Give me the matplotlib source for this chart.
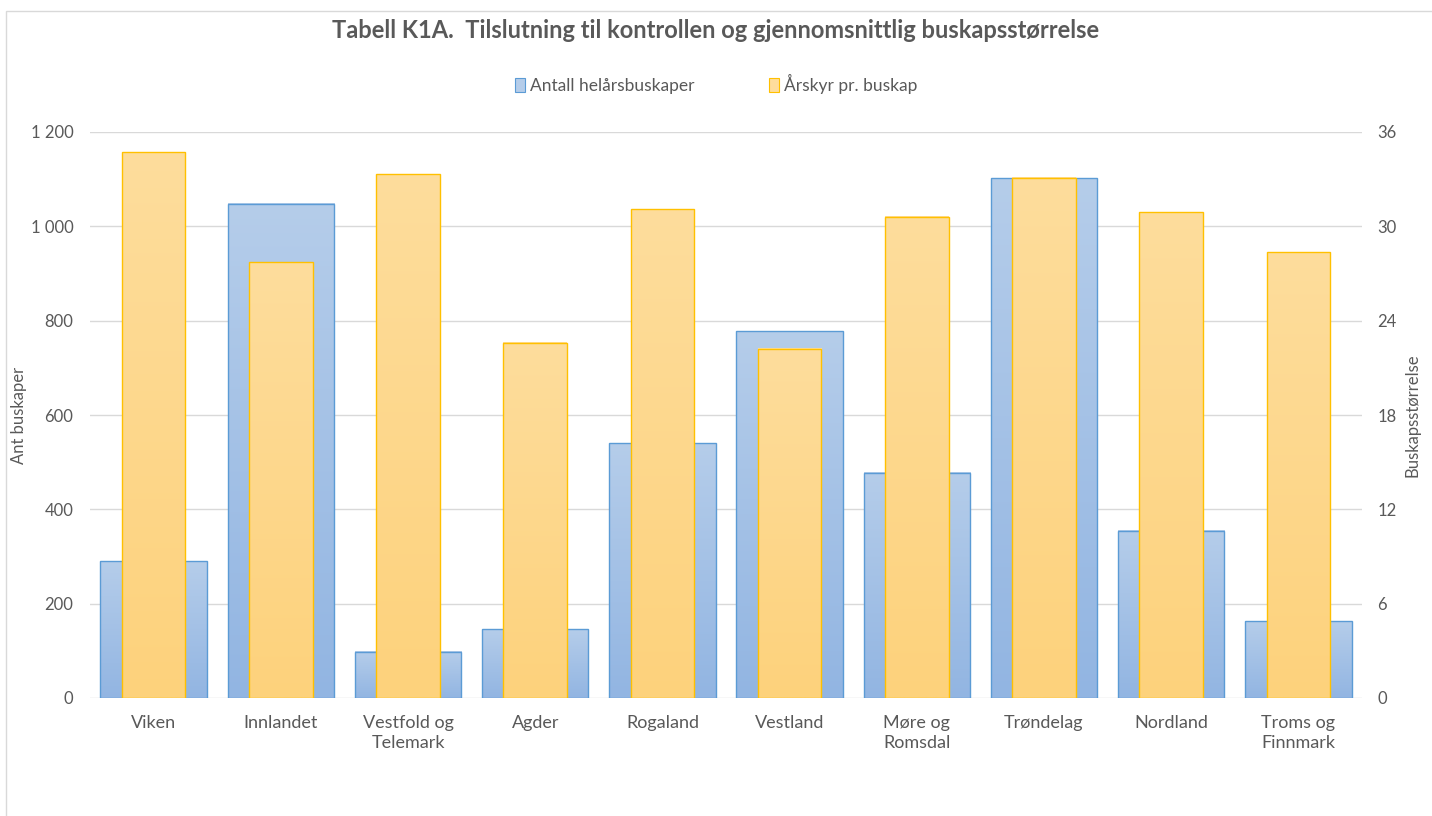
import numpy as np
import matplotlib
matplotlib.use("Agg")
import matplotlib.pyplot as plt
from matplotlib.patches import Patch, Rectangle
from matplotlib.colors import to_rgb
from matplotlib.ticker import FuncFormatter

plt.rcParams['font.family'] = ['Lato', 'DejaVu Sans']

categories = ["Viken", "Innlandet", "Vestfold og\nTelemark", "Agder", "Rogaland",
              "Vestland", "Møre og\nRomsdal", "Trøndelag", "Nordland", "Troms og\nFinnmark"]
antall = [290, 1048, 98, 146, 540, 778, 478, 1102, 355, 163]
arskyr = [34.7, 27.7, 33.3, 22.6, 31.1, 22.2, 30.6, 33.1, 30.9, 28.35]

title = "Tabell K1A.  Tilslutning til kontrollen og gjennomsnittlig buskapsstørrelse"
series_names = ["Antall helårsbuskaper", "Årskyr pr. buskap"]
left_label = "Ant buskaper"
right_label = "Buskapsstørrelse"
left_ticks = [0, 200, 400, 600, 800, 1000, 1200]
right_ticks = [0, 6, 12, 18, 24, 30, 36]

blue_top, blue_bot, blue_edge = "#B5CDEA", "#92B5E2", "#5B9BD5"
yel_top, yel_bot, yel_edge = "#FEDD9C", "#FDD27C", "#FFC000"
txt = "#595959"

fig = plt.figure(figsize=(14.32, 8.16), dpi=100)
fig.patch.set_facecolor("white")
# chart frame
fig.add_artist(Rectangle((6/1432, -0.1), 2, 1 - 11/816 + 0.1, transform=fig.transFigure,
                         fill=False, edgecolor="#D9D9D9", linewidth=1.0))

x0_px, x1_px, ytop_px, ybot_px = 90, 1362, 132, 698
ax = fig.add_axes([x0_px/1432, 1 - ybot_px/816, (x1_px - x0_px)/1432, (ybot_px - ytop_px)/816])
ax2 = ax.twinx()

x = np.arange(len(categories))


def gradient_fill(a, bars, top, bot, z):
    t = np.linspace(0, 1, 128).reshape(-1, 1, 1)
    c_top = np.array(to_rgb(top)).reshape(1, 1, 3)
    c_bot = np.array(to_rgb(bot)).reshape(1, 1, 3)
    img = c_top * (1 - t) + c_bot * t
    for b in bars:
        bx, by = b.get_x(), b.get_y()
        w, h = b.get_width(), b.get_height()
        a.imshow(img, extent=(bx, bx + w, by, by + h), aspect='auto',
                 origin='upper', zorder=z, interpolation='bilinear')


b1 = ax.bar(x, antall, width=0.835, facecolor='none', edgecolor=blue_edge,
            linewidth=1.0, zorder=3)
gradient_fill(ax, b1, blue_top, blue_bot, 2)
b2 = ax2.bar(x, arskyr, width=0.5, facecolor='none', edgecolor=yel_edge,
             linewidth=1.0, zorder=3)
gradient_fill(ax2, b2, yel_top, yel_bot, 2)

ax.set_xlim(-0.5, len(categories) - 0.5)
ax.set_ylim(0, 1200)
ax2.set_ylim(0, 36)
ax.set_yticks(left_ticks)
ax2.set_yticks(right_ticks)
ax.yaxis.set_major_formatter(FuncFormatter(lambda v, p: f"{int(v):,}".replace(",", " ")))
ax.grid(axis='y', color="#D9D9D9", linewidth=1.0, zorder=0)
ax.set_axisbelow(True)
ax.set_xticks(x)
ax.set_xticklabels(categories, fontsize=13, color=txt, linespacing=1.35)

for a in (ax, ax2):
    for s in a.spines.values():
        s.set_visible(False)
    a.tick_params(length=0, labelsize=12, labelcolor=txt)
ax.tick_params(axis='x', labelsize=13, pad=12)
ax.tick_params(axis='y', pad=12)
ax2.tick_params(axis='y', pad=11)

W = x1_px - x0_px
ax.set_ylabel(left_label, fontsize=12, color=txt)
ax.yaxis.set_label_coords((27 - x0_px) / W, 0.5)
ax2.set_ylabel(right_label, fontsize=12, color=txt)
ax2.yaxis.set_label_coords((1405 - x0_px) / W, 0.5)

fig.text(0.5, 1 - 31/816, title, ha='center', va='center', fontsize=17,
         fontweight='bold', color=txt)

handles = [Patch(facecolor=blue_top, edgecolor=blue_edge, linewidth=0.8),
           Patch(facecolor=yel_top, edgecolor=yel_edge, linewidth=0.8)]
fig.legend(handles, series_names, loc='center', bbox_to_anchor=(0.5, 1 - 84/816),
           ncol=2, frameon=False, fontsize=12.5, labelcolor=txt,
           handlelength=0.6, handleheight=0.85, handletextpad=0.25, columnspacing=4.3)

fig.savefig("out.png", dpi=100, facecolor="white")
